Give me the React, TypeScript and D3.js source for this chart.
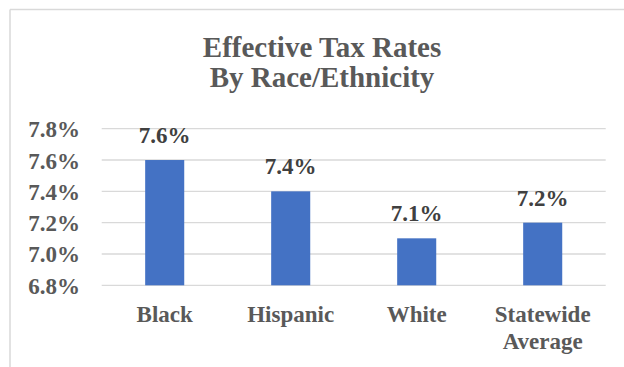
import React from "react";
import * as d3 from "d3";

const categories: string[][] = [["Black"], ["Hispanic"], ["White"], ["Statewide", "Average"]];
const values: number[] = [7.6, 7.4, 7.1, 7.2];
const yTicks: number[] = [6.8, 7.0, 7.2, 7.4, 7.6, 7.8];
const titleLines: string[] = ["Effective Tax Rates", "By Race/Ethnicity"];

const W = 624;
const H = 367;
const FONT = "Liberation Serif, Times New Roman, serif";

export default function App() {
  const keys = categories.map((c) => c.join(" "));
  const x = d3
    .scaleBand<string>()
    .domain(keys)
    .range([101.7, 605.7])
    .paddingInner(0.69)
    .paddingOuter(0.345);
  const y = d3.scaleLinear().domain([6.8, 7.8]).range([285.3, 128.7]);
  const [x0, x1] = x.range();
  const txt = (size: number) => ({ fontFamily: FONT, fontWeight: 700, fontSize: size });

  return (
    <svg width={W} height={H} style={{ position: "absolute", left: 0, top: 0, background: "#fff" }}>
      <rect x={0} y={0} width={W} height={H} fill="#fff" />
      {/* chart border (only left/top visible) */}
      <line x1={10} y1={9.5} x2={W + 5} y2={9.5} stroke="#d9d9d9" strokeWidth={1.5} />
      <line x1={10} y1={9.5} x2={10} y2={H + 5} stroke="#d9d9d9" strokeWidth={1.5} />

      {titleLines.map((t, i) => (
        <text key={t} x={322} y={57 + i * 30} textAnchor="middle" style={txt(29)} fill="#595959">
          {t}
        </text>
      ))}

      {yTicks.map((t) => (
        <g key={t}>
          <line x1={x0} x2={x1} y1={y(t)} y2={y(t)} stroke="#d9d9d9" strokeWidth={1.3} />
          <text x={80} y={y(t) + 8.5} textAnchor="end" style={txt(23)} fill="#595959">
            {d3.format(".1f")(t) + "%"}
          </text>
        </g>
      ))}

      {values.map((v, i) => {
        const k = keys[i];
        const bx = x(k)!;
        const bw = x.bandwidth();
        const cx = bx + bw / 2;
        return (
          <g key={k}>
            <rect x={bx} y={y(v)} width={bw} height={y(6.8) - y(v)} fill="#4472c4" />
            <text x={cx} y={y(v) - 17} textAnchor="middle" style={txt(23)} fill="#404040">
              {d3.format(".1f")(v) + "%"}
            </text>
            {categories[i].map((line, j) => (
              <text key={line} x={cx} y={322 + j * 27} textAnchor="middle" style={txt(23)} fill="#595959">
                {line}
              </text>
            ))}
          </g>
        );
      })}
    </svg>
  );
}
